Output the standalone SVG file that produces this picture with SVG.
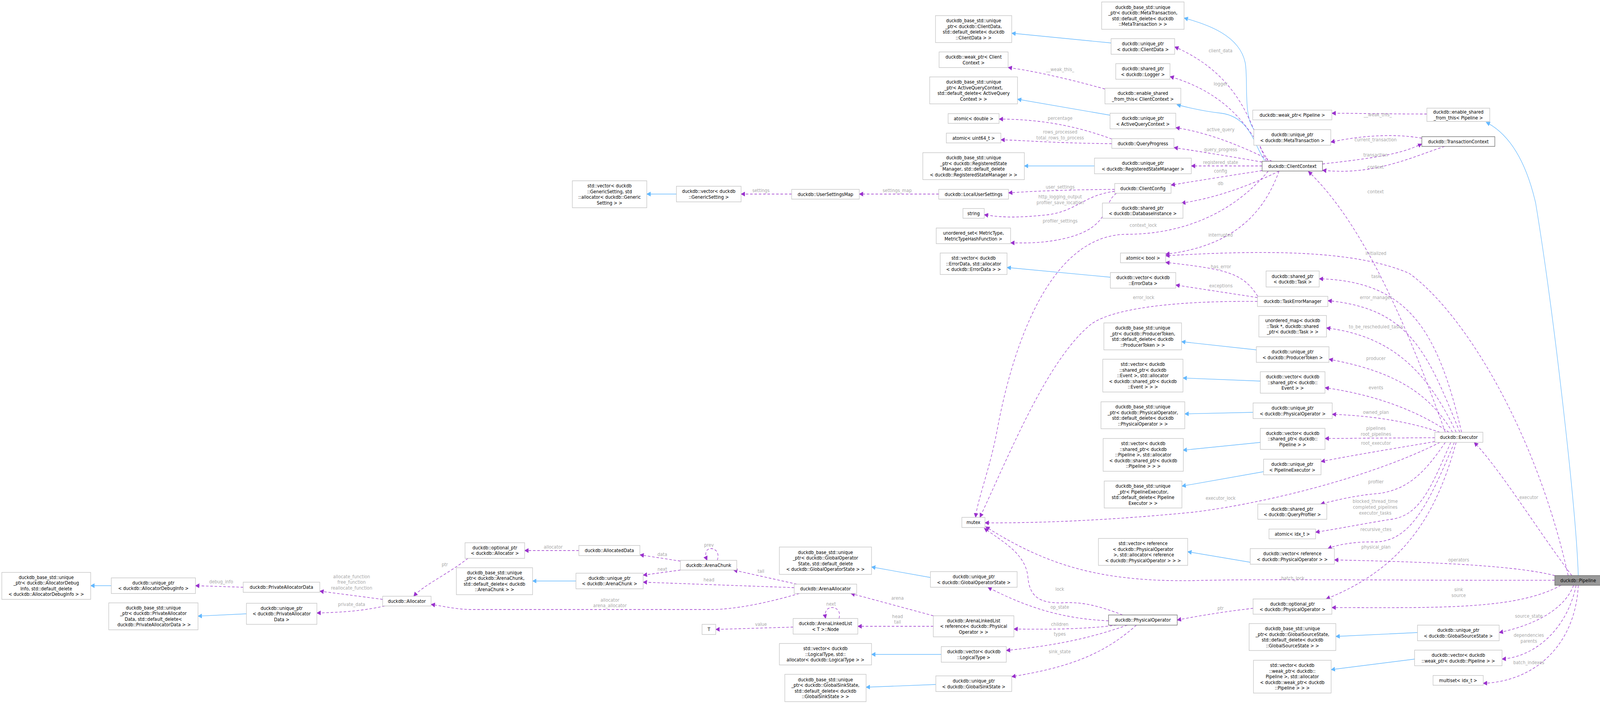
<svg xmlns="http://www.w3.org/2000/svg" width="4437" height="1803" viewBox="0 0 4437 1803">
<style>
.n rect{fill:#fff;stroke:#bfbfbf;stroke-width:1.3}
.d rect{stroke:#666}
.m rect{fill:#999;stroke:#666}
text{font-family:"DejaVu Sans",sans-serif;font-size:12px;fill:#000;text-anchor:middle}
.e path{fill:none}
.u{stroke:#9a32cd;stroke-width:1.3;stroke-dasharray:7,5;marker-end:url(#pa)}
.b{stroke:#63b8ff;stroke-width:1.3;marker-end:url(#ba)}
.l{fill:#a8a8a8}
</style>
<defs>
<marker id="pa" viewBox="0 0 10 10" refX="9" refY="5" markerWidth="12" markerHeight="12" markerUnits="userSpaceOnUse" orient="auto"><path d="M0,0L10,5L0,10z" fill="#9a32cd" stroke="none"/></marker>
<marker id="ba" viewBox="0 0 10 10" refX="9" refY="5" markerWidth="12" markerHeight="12" markerUnits="userSpaceOnUse" orient="auto"><path d="M0,0L10,5L0,10z" fill="#63b8ff" stroke="none"/></marker>
</defs>
<rect width="4437" height="1803" fill="#fff"/>
<g id="diagram" transform="scale(0.925,1)">
<g id="edges" class="e">
<path class="b" d="M308,1500L251,1500"/>
<path class="b" d="M682,1572L548,1578"/>
<path class="b" d="M1872,497L1790,497"/>
<path class="b" d="M1594,1488L1474,1488"/>
<path class="b" d="M2575,1479L2412,1452"/>
<path class="b" d="M2605,1676L2412,1676"/>
<path class="b" d="M2590,1753L2397,1760"/>
<path class="b" d="M3075,110L2800,85"/>
<path class="b" d="M3072,295L2816,254"/>
<path class="b" d="M3029,425L2835,425"/>
<path class="b" d="M3073,710L2787,685"/>
<path class="b" d="M3477,896L3270,875"/>
<path class="b" d="M3488,976L3274,968"/>
<path class="b" d="M3468,1056L3279,1060"/>
<path class="b" d="M3488,1133L3274,1153"/>
<path class="b" d="M3497,1208L3271,1245"/>
<path class="b" d="M3460,1440L3287,1413"/>
<path class="b" d="M3923,1620L3697,1630"/>
<path class="b" d="M3915,1688L3684,1715"/>
<path class="b" d="M3471,332C3440,300 3455,200 3446,160C3430,90 3340,62 3277,46"/>
<path class="b" d="M3500,411C3470,370 3460,300 3380,290C3330,285 3290,276 3257,268"/>
<path class="b" d="M4368,1474C4362,1300 4300,800 4250,520C4220,400 4170,340 4113,313"/>

<path class="u" d="M673,1504L541,1500"/>
<path class="u" d="M1059,1535L885,1514"/>
<path class="u" d="M1065,1552C1000,1565 950,1568 877,1570"/>
<path class="u" d="M1295,1430C1240,1470 1170,1500 1145,1527"/>
<path class="u" d="M1602,1410L1452,1410"/>
<path class="u" d="M1883,1437L1771,1421"/>
<path class="u" d="M1883,1460L1780,1473"/>
<path class="u" d="M1985,1435C1992,1418 1982,1405 1968,1405C1952,1405 1950,1420 1957,1435"/>
<path class="u" d="M2205,1496L2030,1460"/>
<path class="u" d="M2198,1505L1780,1491"/>
<path class="u" d="M2212,1520C2120,1545 2030,1561 1970,1561L1300,1561C1260,1560 1230,1553 1193,1548"/>
<path class="u" d="M2195,1606L1981,1612"/>
<path class="u" d="M2322,1584C2328,1565 2315,1555 2300,1556C2285,1558 2282,1570 2285,1584"/>
<path class="u" d="M2583,1577L2355,1520"/>
<path class="u" d="M2583,1604L2374,1604"/>
<path class="u" d="M3068,1590C2950,1585 2850,1560 2734,1504"/>
<path class="u" d="M3090,1601C3000,1612 2900,1612 2806,1611"/>
<path class="u" d="M3120,1601C3000,1640 2900,1655 2785,1666"/>
<path class="u" d="M3145,1601C3050,1680 2950,1710 2800,1733"/>
<path class="u" d="M3107,1575C3050,1555 3000,1540 2938,1544C2880,1545 2850,1530 2845,1480C2840,1420 2780,1390 2724,1353"/>
<path class="u" d="M3468,1558C3400,1565 3330,1575 3258,1588"/>
<path class="u" d="M4303,1486C3900,1487 3500,1482 3300,1487C3050,1490 2900,1450 2728,1349"/>
<path class="u" d="M3985,1133C3800,1220 3500,1290 3300,1312C3100,1330 2900,1340 2726,1339"/>
<path class="u" d="M3510,438C3400,560 3250,600 3120,600C2900,600 2800,900 2760,1100C2740,1200 2705,1280 2700,1325"/>
<path class="u" d="M3480,772C3250,770 3080,790 3020,830C2900,920 2800,1150 2712,1325"/>
<path class="u" d="M4040,1107C3950,900 3900,790 3675,770"/>
<path class="u" d="M4045,1107C3980,850 3900,720 3651,714"/>
<path class="u" d="M4340,1474C4250,1100 4050,800 3900,700C3750,640 3500,640 3226,655"/>
<path class="u" d="M3540,438C3500,540 3420,630 3226,651"/>
<path class="u" d="M3481,759C3440,700 3400,690 3226,672"/>
<path class="u" d="M3480,762L3254,730"/>
<path class="u" d="M4030,1107C3950,950 3850,860 3671,840"/>
<path class="u" d="M4020,1107C3950,1000 3850,950 3678,920"/>
<path class="u" d="M4010,1107C3920,1050 3800,1010 3667,993"/>
<path class="u" d="M3985,1107C3900,1080 3800,1065 3687,1061"/>
<path class="u" d="M3971,1121L3667,1123"/>
<path class="u" d="M3971,1131C3850,1150 3750,1165 3656,1182"/>
<path class="u" d="M4000,1133C3950,1200 3900,1260 3800,1265C3750,1270 3700,1280 3655,1291"/>
<path class="u" d="M4015,1133C3960,1250 3930,1320 3850,1330C3780,1340 3700,1355 3641,1363"/>
<path class="u" d="M4025,1133C3950,1300 3900,1390 3800,1388C3750,1387 3700,1395 3675,1405"/>
<path class="u" d="M4030,1133C3980,1300 3900,1450 3670,1534"/>
<path class="u" d="M4303,1474C4200,1450 4000,1440 3693,1434"/>
<path class="u" d="M4320,1499C4200,1560 4000,1557 3686,1556"/>
<path class="u" d="M4350,1474C4250,1350 4150,1200 4080,1133"/>
<path class="u" d="M4000,1107C3900,850 3780,580 3621,439"/>
<path class="u" d="M4355,1499C4330,1560 4250,1600 4149,1620"/>
<path class="u" d="M4362,1499C4340,1600 4260,1680 4157,1688"/>
<path class="u" d="M4368,1499C4360,1650 4250,1745 4105,1750"/>
<path class="u" d="M3949,292C3850,292 3750,290 3686,290"/>
<path class="u" d="M3935,354C3850,340 3750,350 3683,364"/>
<path class="u" d="M3660,420C3800,405 3880,395 3935,368"/>
<path class="u" d="M3998,375C3900,405 3800,450 3660,436"/>
<path class="u" d="M3505,413C3470,350 3450,200 3251,120"/>
<path class="u" d="M3510,413C3460,330 3400,240 3238,196"/>
<path class="u" d="M3058,228C2950,200 2850,180 2790,173"/>
<path class="u" d="M3520,413C3450,380 3350,340 3254,327"/>
<path class="u" d="M3493,415C3400,400 3300,385 3249,378"/>
<path class="u" d="M3493,425L3297,425"/>
<path class="u" d="M3493,437C3400,450 3300,465 3241,474"/>
<path class="u" d="M3540,438C3450,480 3350,510 3270,520"/>
<path class="u" d="M3077,356C3000,330 2900,305 2765,305"/>
<path class="u" d="M3077,368C2900,366 2850,360 2770,358"/>
<path class="u" d="M3085,485C2950,486 2850,490 2791,494"/>
<path class="u" d="M3085,490C3000,500 2980,540 2900,550C2800,560 2760,555 2724,550"/>
<path class="u" d="M3090,495C3050,520 3080,580 2950,610C2880,625 2830,622 2797,622"/>
<path class="u" d="M2598,497L2378,497"/>
<path class="u" d="M2191,497L2051,497"/>
</g>
<g id="labels" class="l">
<text class="l" x="612" y="1494">debug_info</text>
<text class="l" x="973" y="1481">allocate_function<tspan x="973" dy="14.5">free_function</tspan><tspan x="973" dy="14.5">reallocate_function</tspan></text>
<text class="l" x="973" y="1552">private_data</text>
<text class="l" x="1231" y="1450">ptr</text>
<text class="l" x="1531" y="1405">allocator</text>
<text class="l" x="1833" y="1424">data</text>
<text class="l" x="1833" y="1462">next</text>
<text class="l" x="1962" y="1400">prev</text>
<text class="l" x="1962" y="1489">head</text>
<text class="l" x="2106" y="1467">tail</text>
<text class="l" x="1688" y="1541">allocator<tspan x="1688" dy="14.5">arena_allocator</tspan></text>
<text class="l" x="2484" y="1536">arena</text>
<text class="l" x="2300" y="1551">next</text>
<text class="l" x="2484" y="1583">head<tspan x="2484" dy="14.5">tail</tspan></text>
<text class="l" x="2106" y="1603">value</text>
<text class="l" x="2933" y="1513">lock</text>
<text class="l" x="2933" y="1559">op_state</text>
<text class="l" x="2933" y="1603">children</text>
<text class="l" x="2933" y="1628">types</text>
<text class="l" x="2933" y="1673">sink_state</text>
<text class="l" x="3808" y="1238">profiler</text>
<text class="l" x="3378" y="1280">executor_lock</text>
<text class="l" x="3806" y="1288">blocked_thread_time<tspan x="3806" dy="15">completed_pipelines</tspan><tspan x="3806" dy="15">executor_tasks</tspan></text>
<text class="l" x="3808" y="1360">recursive_ctes</text>
<text class="l" x="3808" y="1405">physical_plan</text>
<text class="l" x="4037" y="1438">operators</text>
<text class="l" x="3578" y="1485">batch_lock</text>
<text class="l" x="4037" y="1514">sink<tspan x="4037" dy="15">source</tspan></text>
<text class="l" x="3378" y="1562">ptr</text>
<text class="l" x="4231" y="1582">source_state</text>
<text class="l" x="4231" y="1278">executor</text>
<text class="l" x="4231" y="1631">dependencies<tspan x="4231" dy="15">parents</tspan></text>
<text class="l" x="4231" y="1701">batch_indexes</text>
<text class="l" x="3378" y="606">interrupted</text>
<text class="l" x="3808" y="653">initialized</text>
<text class="l" x="3379" y="687">has_error</text>
<text class="l" x="3808" y="712">task</text>
<text class="l" x="3379" y="736">exceptions</text>
<text class="l" x="3808" y="766">error_manager</text>
<text class="l" x="3808" y="841">to_be_rescheduled_tasks</text>
<text class="l" x="3808" y="922">producer</text>
<text class="l" x="3808" y="997">events</text>
<text class="l" x="3808" y="1060">owned_plan</text>
<text class="l" x="3808" y="1101">pipelines<tspan x="3808" dy="15">root_pipelines</tspan></text>
<text class="l" x="3808" y="1139">root_executor</text>
<text class="l" x="2934" y="570">profiler_settings</text>
<text class="l" x="3164" y="581">context_lock</text>
<text class="l" x="3165" y="766">error_lock</text>
<text class="l" x="2934" y="182">__weak_this_</text>
<text class="l" x="2934" y="307">percentage</text>
<text class="l" x="2934" y="342">rows_processed<tspan x="2934" dy="15">total_rows_to_process</tspan></text>
<text class="l" x="2106" y="492">settings</text>
<text class="l" x="2483" y="492">settings_map</text>
<text class="l" x="2934" y="483">user_settings</text>
<text class="l" x="2934" y="508">http_logging_output<tspan x="2934" dy="15">profiler_save_location</tspan></text>
<text class="l" x="3378" y="134">client_data</text>
<text class="l" x="3378" y="219">logger</text>
<text class="l" x="3378" y="336">active_query</text>
<text class="l" x="3378" y="387">query_progress</text>
<text class="l" x="3378" y="420">registered_state</text>
<text class="l" x="3378" y="442">config</text>
<text class="l" x="3378" y="474">db</text>
<text class="l" x="3807" y="362">current_transaction</text>
<text class="l" x="3807" y="401">transaction</text>
<text class="l" x="3807" y="432">context</text>
<text class="l" x="3807" y="495">context</text>
<text class="l" x="3813" y="298">__weak_this_</text>
</g>
<g id="n1" class="n"><rect x="5" y="1466" width="246" height="69"/><text x="128" y="1483">duckdb_base_std::unique<tspan x="128" dy="14.5">_ptr&lt; duckdb::AllocatorDebug</tspan><tspan x="128" dy="14.5">Info, std::default_delete</tspan><tspan x="128" dy="14.5">&lt; duckdb::AllocatorDebugInfo &gt; &gt;</tspan></text></g>
<g id="n2" class="n"><rect x="308" y="1480" width="233" height="40"/><text x="424.5" y="1497">duckdb::unique_ptr<tspan x="424.5" dy="14.5">&lt; duckdb::AllocatorDebugInfo &gt;</tspan></text></g>
<g id="n3" class="n"><rect x="673" y="1491" width="212" height="26"/><text x="779" y="1508.5">duckdb::PrivateAllocatorData</text></g>
<g id="n4" class="n"><rect x="301" y="1544" width="247" height="69"/><text x="424.5" y="1561">duckdb_base_std::unique<tspan x="424.5" dy="14.5">_ptr&lt; duckdb::PrivateAllocator</tspan><tspan x="424.5" dy="14.5">Data, std::default_delete&lt;</tspan><tspan x="424.5" dy="14.5"> duckdb::PrivateAllocatorData &gt; &gt;</tspan></text></g>
<g id="n5" class="n"><rect x="682" y="1545" width="195" height="54"/><text x="779.5" y="1562">duckdb::unique_ptr<tspan x="779.5" dy="14.5">&lt; duckdb::PrivateAllocator</tspan><tspan x="779.5" dy="14.5">Data &gt;</tspan></text></g>
<g id="n6" class="n"><rect x="1059" y="1527" width="134" height="25"/><text x="1126" y="1544">duckdb::Allocator</text></g>
<g id="n7" class="n"><rect x="1287" y="1390" width="165" height="40"/><text x="1369.5" y="1407">duckdb::optional_ptr<tspan x="1369.5" dy="14.5">&lt; duckdb::Allocator &gt;</tspan></text></g>
<g id="n8" class="n"><rect x="1263" y="1454" width="211" height="69"/><text x="1368.5" y="1471">duckdb_base_std::unique<tspan x="1368.5" dy="14.5">_ptr&lt; duckdb::ArenaChunk,</tspan><tspan x="1368.5" dy="14.5">std::default_delete&lt; duckdb</tspan><tspan x="1368.5" dy="14.5">::ArenaChunk &gt; &gt;</tspan></text></g>
<g id="n9" class="n"><rect x="1602" y="1397" width="169" height="26"/><text x="1686.5" y="1414.5">duckdb::AllocatedData</text></g>
<g id="n10" class="n"><rect x="1594" y="1468" width="186" height="40"/><text x="1687" y="1485">duckdb::unique_ptr<tspan x="1687" dy="14.5">&lt; duckdb::ArenaChunk &gt;</tspan></text></g>
<g id="n11" class="n"><rect x="1883" y="1435" width="156" height="25"/><text x="1961" y="1452">duckdb::ArenaChunk</text></g>
<g id="n12" class="n"><rect x="2198" y="1496" width="173" height="24"/><text x="2284.5" y="1512.5">duckdb::ArenaAllocator</text></g>
<g id="n13" class="n"><rect x="2157" y="1401" width="255" height="70"/><text x="2284.5" y="1418.75">duckdb_base_std::unique<tspan x="2284.5" dy="14.5">_ptr&lt; duckdb::GlobalOperator</tspan><tspan x="2284.5" dy="14.5">State, std::default_delete</tspan><tspan x="2284.5" dy="14.5">&lt; duckdb::GlobalOperatorState &gt; &gt;</tspan></text></g>
<g id="n14" class="n"><rect x="2195" y="1584" width="179" height="40"/><text x="2284.5" y="1601.25">duckdb::ArenaLinkedList<tspan x="2284.5" dy="14.5">&lt; T &gt;::Node</tspan></text></g>
<g id="n15" class="n"><rect x="1943" y="1599" width="38" height="26"/><text x="1962" y="1616.5">T</text></g>
<g id="n16" class="n"><rect x="2157" y="1648" width="255" height="55"/><text x="2284.5" y="1665.5">std::vector&lt; duckdb<tspan x="2284.5" dy="14.5">::LogicalType, std::</tspan><tspan x="2284.5" dy="14.5">allocator&lt; duckdb::LogicalType &gt; &gt;</tspan></text></g>
<g id="n17" class="n"><rect x="2172" y="1727" width="225" height="70"/><text x="2284.5" y="1744.75">duckdb_base_std::unique<tspan x="2284.5" dy="14.5">_ptr&lt; duckdb::GlobalSinkState,</tspan><tspan x="2284.5" dy="14.5">std::default_delete&lt; duckdb</tspan><tspan x="2284.5" dy="14.5">::GlobalSinkState &gt; &gt;</tspan></text></g>
<g id="n18" class="n"><rect x="2575" y="1464" width="240" height="40"/><text x="2695" y="1481.25">duckdb::unique_ptr<tspan x="2695" dy="14.5">&lt; duckdb::GlobalOperatorState &gt;</tspan></text></g>
<g id="n19" class="n"><rect x="2583" y="1577" width="223" height="54"/><text x="2694.5" y="1594">duckdb::ArenaLinkedList<tspan x="2694.5" dy="14.5">&lt; reference&lt; duckdb::Physical</tspan><tspan x="2694.5" dy="14.5">Operator &gt; &gt;</tspan></text></g>
<g id="n20" class="n"><rect x="2605" y="1656" width="180" height="40"/><text x="2695" y="1673.25">duckdb::vector&lt; duckdb<tspan x="2695" dy="14.5">::LogicalType &gt;</tspan></text></g>
<g id="n21" class="n"><rect x="2590" y="1731" width="210" height="40"/><text x="2695" y="1748.25">duckdb::unique_ptr<tspan x="2695" dy="14.5">&lt; duckdb::GlobalSinkState &gt;</tspan></text></g>
<g id="n22" class="n d"><rect x="3068" y="1575" width="190" height="26"/><text x="3163" y="1592.5">duckdb::PhysicalOperator</text></g>
<g id="n23" class="n"><rect x="2662" y="1325" width="64" height="26"/><text x="2694" y="1342.5">mutex</text></g>
<g id="n24" class="n"><rect x="3053" y="1123" width="222" height="84"/><text x="3164" y="1140.5">std::vector&lt; duckdb<tspan x="3164" dy="14.5">::shared_ptr&lt; duckdb</tspan><tspan x="3164" dy="14.5">::Pipeline &gt;, std::allocator</tspan><tspan x="3164" dy="14.5">&lt; duckdb::shared_ptr&lt; duckdb</tspan><tspan x="3164" dy="14.5">::Pipeline &gt; &gt; &gt;</tspan></text></g>
<g id="n25" class="n"><rect x="3056" y="1232" width="215" height="69"/><text x="3163.5" y="1249.25">duckdb_base_std::unique<tspan x="3163.5" dy="14.5">_ptr&lt; PipelineExecutor,</tspan><tspan x="3163.5" dy="14.5">std::default_delete&lt; Pipeline</tspan><tspan x="3163.5" dy="14.5">Executor &gt; &gt;</tspan></text></g>
<g id="n26" class="n"><rect x="3040" y="1379" width="247" height="69"/><text x="3163.5" y="1396.25">std::vector&lt; reference<tspan x="3163.5" dy="14.5">&lt; duckdb::PhysicalOperator</tspan><tspan x="3163.5" dy="14.5"> &gt;, std::allocator&lt; reference</tspan><tspan x="3163.5" dy="14.5">&lt; duckdb::PhysicalOperator &gt; &gt; &gt;</tspan></text></g>
<g id="n27" class="n"><rect x="3497" y="1176" width="159" height="40"/><text x="3576.5" y="1193.25">duckdb::unique_ptr<tspan x="3576.5" dy="14.5">&lt; PipelineExecutor &gt;</tspan></text></g>
<g id="n28" class="n"><rect x="3481" y="1291" width="191" height="39"/><text x="3576.5" y="1307.75">duckdb::shared_ptr<tspan x="3576.5" dy="14.5">&lt; duckdb::QueryProfiler &gt;</tspan></text></g>
<g id="n29" class="n"><rect x="3512" y="1355" width="129" height="25"/><text x="3576.5" y="1372">atomic&lt; idx_t &gt;</text></g>
<g id="n30" class="n"><rect x="3460" y="1405" width="233" height="40"/><text x="3576.5" y="1422.25">duckdb::vector&lt; reference<tspan x="3576.5" dy="14.5">&lt; duckdb::PhysicalOperator &gt; &gt;</tspan></text></g>
<g id="n31" class="n"><rect x="3468" y="1534" width="218" height="39"/><text x="3577" y="1550.75">duckdb::optional_ptr<tspan x="3577" dy="14.5">&lt; duckdb::PhysicalOperator &gt;</tspan></text></g>
<g id="n32" class="n"><rect x="3457" y="1597" width="240" height="69"/><text x="3577" y="1614.25">duckdb_base_std::unique<tspan x="3577" dy="14.5">_ptr&lt; duckdb::GlobalSourceState,</tspan><tspan x="3577" dy="14.5">std::default_delete&lt; duckdb</tspan><tspan x="3577" dy="14.5">::GlobalSourceState &gt; &gt;</tspan></text></g>
<g id="n33" class="n"><rect x="3923" y="1601" width="226" height="40"/><text x="4036" y="1618.25">duckdb::unique_ptr<tspan x="4036" dy="14.5">&lt; duckdb::GlobalSourceState &gt;</tspan></text></g>
<g id="n34" class="n"><rect x="3469" y="1691" width="215" height="84"/><text x="3576.5" y="1708.5">std::vector&lt; duckdb<tspan x="3576.5" dy="14.5">::weak_ptr&lt; duckdb::</tspan><tspan x="3576.5" dy="14.5">Pipeline &gt;, std::allocator</tspan><tspan x="3576.5" dy="14.5">&lt; duckdb::weak_ptr&lt; duckdb</tspan><tspan x="3576.5" dy="14.5">::Pipeline &gt; &gt; &gt;</tspan></text></g>
<g id="n35" class="n"><rect x="3915" y="1665" width="242" height="40"/><text x="4036" y="1682.25">duckdb::vector&lt; duckdb<tspan x="4036" dy="14.5">::weak_ptr&lt; duckdb::Pipeline &gt; &gt;</tspan></text></g>
<g id="n36" class="n"><rect x="3966" y="1730" width="139" height="25"/><text x="4035.5" y="1747">multiset&lt; idx_t &gt;</text></g>
<g id="n37" class="n m"><rect x="4303" y="1474" width="129" height="25"/><text x="4367.5" y="1491">duckdb::Pipeline</text></g>
<g id="n38" class="n"><rect x="3504" y="694" width="147" height="41"/><text x="3577.5" y="711.75">duckdb::shared_ptr<tspan x="3577.5" dy="14.5">&lt; duckdb::Task &gt;</tspan></text></g>
<g id="n39" class="n"><rect x="3480" y="759" width="195" height="26"/><text x="3577.5" y="776.5">duckdb::TaskErrorManager</text></g>
<g id="n40" class="n"><rect x="3484" y="808" width="187" height="55"/><text x="3577.5" y="825.5">unordered_map&lt; duckdb<tspan x="3577.5" dy="14.5">::Task *, duckdb::shared</tspan><tspan x="3577.5" dy="14.5">_ptr&lt; duckdb::Task &gt; &gt;</tspan></text></g>
<g id="n41" class="n"><rect x="3477" y="888" width="201" height="40"/><text x="3577.5" y="905.25">duckdb::unique_ptr<tspan x="3577.5" dy="14.5">&lt; duckdb::ProducerToken &gt;</tspan></text></g>
<g id="n42" class="n"><rect x="3488" y="952" width="179" height="55"/><text x="3577.5" y="969.5">duckdb::vector&lt; duckdb<tspan x="3577.5" dy="14.5">::shared_ptr&lt; duckdb::</tspan><tspan x="3577.5" dy="14.5">Event &gt; &gt;</tspan></text></g>
<g id="n43" class="n"><rect x="3468" y="1032" width="219" height="40"/><text x="3577.5" y="1049.25">duckdb::unique_ptr<tspan x="3577.5" dy="14.5">&lt; duckdb::PhysicalOperator &gt;</tspan></text></g>
<g id="n44" class="n"><rect x="3488" y="1097" width="179" height="54"/><text x="3577.5" y="1114">duckdb::vector&lt; duckdb<tspan x="3577.5" dy="14.5">::shared_ptr&lt; duckdb::</tspan><tspan x="3577.5" dy="14.5">Pipeline &gt; &gt;</tspan></text></g>
<g id="n45" class="n"><rect x="3971" y="1107" width="133" height="26"/><text x="4037.5" y="1124.5">duckdb::Executor</text></g>
<g id="n46" class="n"><rect x="2665" y="534" width="59" height="25"/><text x="2694.5" y="551">string</text></g>
<g id="n47" class="n"><rect x="2591" y="584" width="206" height="40"/><text x="2694" y="601.25">unordered_set&lt; MetricType,<tspan x="2694" dy="14.5">MetricTypeHashFunction &gt;</tspan></text></g>
<g id="n48" class="n"><rect x="2602" y="648" width="185" height="55"/><text x="2694.5" y="665.5">std::vector&lt; duckdb<tspan x="2694.5" dy="14.5">::ErrorData, std::allocator</tspan><tspan x="2694.5" dy="14.5">&lt; duckdb::ErrorData &gt; &gt;</tspan></text></g>
<g id="n49" class="n"><rect x="3101" y="648" width="125" height="25"/><text x="3163.5" y="665">atomic&lt; bool &gt;</text></g>
<g id="n50" class="n"><rect x="3073" y="698" width="181" height="40"/><text x="3163.5" y="715.25">duckdb::vector&lt; duckdb<tspan x="3163.5" dy="14.5">::ErrorData &gt;</tspan></text></g>
<g id="n51" class="n"><rect x="3055" y="827" width="215" height="69"/><text x="3162.5" y="844.25">duckdb_base_std::unique<tspan x="3162.5" dy="14.5">_ptr&lt; duckdb::ProducerToken,</tspan><tspan x="3162.5" dy="14.5">std::default_delete&lt; duckdb</tspan><tspan x="3162.5" dy="14.5">::ProducerToken &gt; &gt;</tspan></text></g>
<g id="n52" class="n"><rect x="3052" y="920" width="222" height="84"/><text x="3163" y="937.5">std::vector&lt; duckdb<tspan x="3163" dy="14.5">::shared_ptr&lt; duckdb</tspan><tspan x="3163" dy="14.5">::Event &gt;, std::allocator</tspan><tspan x="3163" dy="14.5">&lt; duckdb::shared_ptr&lt; duckdb</tspan><tspan x="3163" dy="14.5">::Event &gt; &gt; &gt;</tspan></text></g>
<g id="n53" class="n"><rect x="3047" y="1029" width="232" height="69"/><text x="3163" y="1046.25">duckdb_base_std::unique<tspan x="3163" dy="14.5">_ptr&lt; duckdb::PhysicalOperator,</tspan><tspan x="3163" dy="14.5">std::default_delete&lt; duckdb</tspan><tspan x="3163" dy="14.5">::PhysicalOperator &gt; &gt;</tspan></text></g>
<g id="n54" class="n"><rect x="2589" y="40" width="211" height="69"/><text x="2694.5" y="57.25">duckdb_base_std::unique<tspan x="2694.5" dy="14.5">_ptr&lt; duckdb::ClientData,</tspan><tspan x="2694.5" dy="14.5">std::default_delete&lt; duckdb</tspan><tspan x="2694.5" dy="14.5">::ClientData &gt; &gt;</tspan></text></g>
<g id="n55" class="n"><rect x="2599" y="133" width="191" height="40"/><text x="2694.5" y="150.25">duckdb::weak_ptr&lt; Client<tspan x="2694.5" dy="14.5">Context &gt;</tspan></text></g>
<g id="n56" class="n"><rect x="2573" y="197" width="243" height="69"/><text x="2694.5" y="214.25">duckdb_base_std::unique<tspan x="2694.5" dy="14.5">_ptr&lt; ActiveQueryContext,</tspan><tspan x="2694.5" dy="14.5">std::default_delete&lt; ActiveQuery</tspan><tspan x="2694.5" dy="14.5">Context &gt; &gt;</tspan></text></g>
<g id="n57" class="n"><rect x="2624" y="291" width="141" height="25"/><text x="2694.5" y="308">atomic&lt; double &gt;</text></g>
<g id="n58" class="n"><rect x="2619" y="341" width="151" height="25"/><text x="2694.5" y="358">atomic&lt; uint64_t &gt;</text></g>
<g id="n59" class="n"><rect x="2554" y="391" width="281" height="69"/><text x="2694.5" y="408.25">duckdb_base_std::unique<tspan x="2694.5" dy="14.5">_ptr&lt; duckdb::RegisteredState</tspan><tspan x="2694.5" dy="14.5">Manager, std::default_delete</tspan><tspan x="2694.5" dy="14.5">&lt; duckdb::RegisteredStateManager &gt; &gt;</tspan></text></g>
<g id="n60" class="n"><rect x="2191" y="485" width="187" height="25"/><text x="2284.5" y="502">duckdb::UserSettingsMap</text></g>
<g id="n61" class="n"><rect x="2598" y="485" width="193" height="25"/><text x="2694.5" y="502">duckdb::LocalUserSettings</text></g>
<g id="n62" class="n"><rect x="1872" y="477" width="179" height="40"/><text x="1961.5" y="494.25">duckdb::vector&lt; duckdb<tspan x="1961.5" dy="14.5">::GenericSetting &gt;</tspan></text></g>
<g id="n63" class="n"><rect x="1584" y="463" width="206" height="69"/><text x="1687" y="480.25">std::vector&lt; duckdb<tspan x="1687" dy="14.5">::GenericSetting, std</tspan><tspan x="1687" dy="14.5">::allocator&lt; duckdb::Generic</tspan><tspan x="1687" dy="14.5">Setting &gt; &gt;</tspan></text></g>
<g id="n64" class="n"><rect x="3049" y="5" width="228" height="70"/><text x="3163" y="22.75">duckdb_base_std::unique<tspan x="3163" dy="14.5">_ptr&lt; duckdb::MetaTransaction,</tspan><tspan x="3163" dy="14.5">std::default_delete&lt; duckdb</tspan><tspan x="3163" dy="14.5">::MetaTransaction &gt; &gt;</tspan></text></g>
<g id="n65" class="n"><rect x="3075" y="99" width="176" height="40"/><text x="3163" y="116.25">duckdb::unique_ptr<tspan x="3163" dy="14.5">&lt; duckdb::ClientData &gt;</tspan></text></g>
<g id="n66" class="n"><rect x="3088" y="163" width="150" height="40"/><text x="3163" y="180.25">duckdb::shared_ptr<tspan x="3163" dy="14.5">&lt; duckdb::Logger &gt;</tspan></text></g>
<g id="n67" class="n"><rect x="3058" y="226" width="210" height="40"/><text x="3163" y="243.25">duckdb::enable_shared<tspan x="3163" dy="14.5">_from_this&lt; ClientContext &gt;</tspan></text></g>
<g id="n68" class="n"><rect x="3072" y="290" width="182" height="40"/><text x="3163" y="307.25">duckdb::unique_ptr<tspan x="3163" dy="14.5">&lt; ActiveQueryContext &gt;</tspan></text></g>
<g id="n69" class="n"><rect x="3077" y="355" width="172" height="25"/><text x="3163" y="372">duckdb::QueryProgress</text></g>
<g id="n70" class="n"><rect x="3029" y="405" width="268" height="40"/><text x="3163" y="422.25">duckdb::unique_ptr<tspan x="3163" dy="14.5">&lt; duckdb::RegisteredStateManager &gt;</tspan></text></g>
<g id="n71" class="n"><rect x="3085" y="470" width="156" height="25"/><text x="3163" y="487">duckdb::ClientConfig</text></g>
<g id="n72" class="n"><rect x="3051" y="520" width="223" height="39"/><text x="3162.5" y="536.75">duckdb::shared_ptr<tspan x="3162.5" dy="14.5">&lt; duckdb::DatabaseInstance &gt;</tspan></text></g>
<g id="n73" class="n"><rect x="3467" y="282" width="219" height="25"/><text x="3576.5" y="299">duckdb::weak_ptr&lt; Pipeline &gt;</text></g>
<g id="n74" class="n"><rect x="3470" y="332" width="213" height="40"/><text x="3576.5" y="349.25">duckdb::unique_ptr<tspan x="3576.5" dy="14.5">&lt; duckdb::MetaTransaction &gt;</tspan></text></g>
<g id="n75" class="n d"><rect x="3493" y="413" width="167" height="25"/><text x="3576.5" y="430">duckdb::ClientContext</text></g>
<g id="n76" class="n"><rect x="3949" y="277" width="174" height="34"/><text x="4036" y="291.25">duckdb::enable_shared<tspan x="4036" dy="14.5">_from_this&lt; Pipeline &gt;</tspan></text></g>
<g id="n77" class="n d"><rect x="3935" y="350" width="202" height="25"/><text x="4036" y="367">duckdb::TransactionContext</text></g>
</g>
</svg>
